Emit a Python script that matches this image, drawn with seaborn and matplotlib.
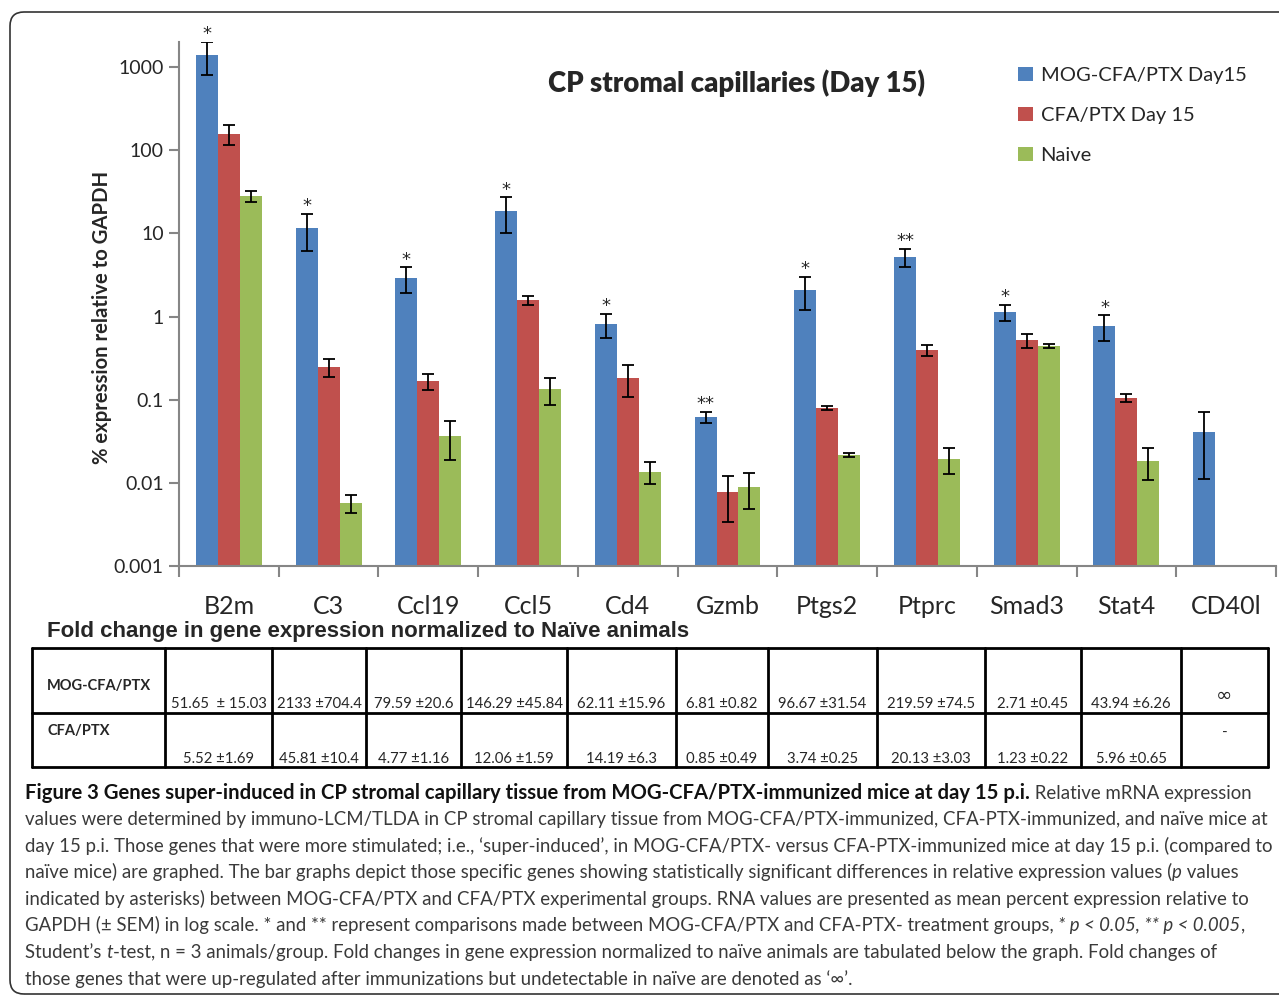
import numpy as np
import pandas as pd
import matplotlib
matplotlib.use("Agg")
import matplotlib.pyplot as plt
import seaborn as sns
from matplotlib import font_manager
from matplotlib.patches import Patch, FancyBboxPatch
from matplotlib.lines import Line2D
from matplotlib.container import BarContainer
from matplotlib.ticker import FixedLocator, NullLocator

# ---------------- data ----------------
genes = ["B2m", "C3", "Ccl19", "Ccl5", "Cd4", "Gzmb", "Ptgs2", "Ptprc", "Smad3", "Stat4", "CD40l"]
series = ["MOG-CFA/PTX Day15", "CFA/PTX Day 15", "Naive"]
mog_mean = [1394, 11.6, 2.9, 18.6, 0.815, 0.062, 2.09, 5.2, 1.135, 0.77, 0.041]
mog_sem = [600, 5.5, 1.0, 8.5, 0.27, 0.009, 0.9, 1.3, 0.25, 0.26, 0.03]
cfa_mean = [157, 0.248, 0.168, 1.58, 0.183, 0.0078, 0.080, 0.397, 0.523, 0.105, np.nan]
cfa_sem = [42, 0.06, 0.038, 0.19, 0.075, 0.0044, 0.005, 0.06, 0.1, 0.011, np.nan]
naive_mean = [28, 0.0057, 0.0367, 0.135, 0.0136, 0.009, 0.0217, 0.0194, 0.443, 0.0184, np.nan]
naive_sem = [4, 0.0014, 0.018, 0.048, 0.004, 0.0042, 0.0013, 0.0066, 0.03, 0.0075, np.nan]
signif = ["*", "*", "*", "*", "*", "**", "*", "**", "*", "*", ""]
ytick_vals = [0.001, 0.01, 0.1, 1, 10, 100, 1000]
ytick_labels = ["0.001", "0.01", "0.1", "1", "10", "100", "1000"]

table_title = "Fold change in gene expression normalized to Naïve animals"
row_labels = ["MOG-CFA/PTX", "CFA/PTX"]
fold_mog = ["51.65  ± 15.03", "2133 ±704.4", "79.59 ±20.6", "146.29 ±45.84", "62.11 ±15.96",
            "6.81 ±0.82", "96.67 ±31.54", "219.59 ±74.5", "2.71 ±0.45", "43.94 ±6.26", "∞"]
fold_cfa = ["5.52 ±1.69", "45.81 ±10.4", "4.77 ±1.16", "12.06 ±1.59", "14.19 ±6.3",
            "0.85 ±0.49", "3.74 ±0.25", "20.13 ±3.03", "1.23 ±0.22", "5.96 ±0.65", "-"]

caption_lines = [
    [("Figure 3 Genes super-induced in CP stromal capillary tissue from MOG-CFA/PTX-immunized mice at day 15 p.i.", "b"),
     (" Relative mRNA expression", "")],
    [("values were determined by immuno-LCM/TLDA in CP stromal capillary tissue from MOG-CFA/PTX-immunized, CFA-PTX-immunized, and naïve mice at", "")],
    [("day 15 p.i. Those genes that were more stimulated; i.e., ‘super-induced’, in MOG-CFA/PTX- versus CFA-PTX-immunized mice at day 15 p.i. (compared to", "")],
    [("naïve mice) are graphed. The bar graphs depict those specific genes showing statistically significant differences in relative expression values (", ""),
     ("p", "i"), (" values", "")],
    [("indicated by asterisks) between MOG-CFA/PTX and CFA/PTX experimental groups. RNA values are presented as mean percent expression relative to", "")],
    [("GAPDH (± SEM) in log scale. * and ** represent comparisons made between MOG-CFA/PTX and CFA-PTX- treatment groups, ", ""),
     ("* p < 0.05, ** p < 0.005", "i"), (",", "")],
    [("Student’s ", ""), ("t", "i"),
     ("-test, n = 3 animals/group. Fold changes in gene expression normalized to naïve animals are tabulated below the graph. Fold changes of", "")],
    [("those genes that were up-regulated after immunizations but undetectable in naïve are denoted as ‘∞’.", "")],
]

colors = ["#4F81BD", "#C0504D", "#9BBB59"]

# ---------------- setup ----------------
sns.set_style("ticks")
avail = {f.name for f in font_manager.fontManager.ttflist}
main_font = "Lato" if "Lato" in avail else "DejaVu Sans"
cap_font = "Liberation Sans Narrow" if "Liberation Sans Narrow" in avail else main_font
plt.rcParams["font.family"] = [main_font, "DejaVu Sans"]

W, H = 1279, 997
fig = plt.figure(figsize=(W / 100, H / 100), dpi=100)

def fx(px):
    return px / W

def fy(py):
    return 1 - py / H

# border
fig.add_artist(FancyBboxPatch((0.10, 0.03), 14.0, 9.82, boxstyle="round,pad=0,rounding_size=0.14",
                              transform=fig.dpi_scale_trans, facecolor="none", edgecolor="#333333",
                              linewidth=1.2))

ax = fig.add_axes([fx(179), fy(566), fx(1276) - fx(179), fy(42) - fy(566)])
ax.set_yscale("log")

df = pd.DataFrame({
    "gene": genes * 3,
    "series": sum([[s] * len(genes) for s in series], []),
    "value": mog_mean + cfa_mean + naive_mean,
})
sns.barplot(data=df, x="gene", y="value", hue="series", order=genes, hue_order=series,
            palette=colors, width=0.66, errorbar=None, ax=ax, legend=False,
            edgecolor="none", saturation=1)

means = [mog_mean, cfa_mean, naive_mean]
sems = [mog_sem, cfa_sem, naive_sem]
bar_conts = [c for c in ax.containers if isinstance(c, BarContainer)]
blue_x = {}
for h, cont in enumerate(bar_conts):
    for bar in cont.patches:
        if bar is None:
            continue
        xc = bar.get_x() + bar.get_width() / 2
        gi = int(round(xc))
        m = means[h][gi]
        if np.isnan(m):
            continue
        ax.errorbar([xc], [m], yerr=[sems[h][gi]], fmt="none", ecolor="black",
                    elinewidth=1.3, capsize=4, capthick=1.3, zorder=5)
        if h == 0:
            blue_x[gi] = xc

for gi, s in enumerate(signif):
    if s and gi in blue_x:
        ax.annotate(s, (blue_x[gi], mog_mean[gi] + mog_sem[gi]), xytext=(0, -1),
                    textcoords="offset points", ha="center", va="bottom", fontsize=13,
                    family=["DejaVu Sans"])

ax.set_ylim(1e-3, 2000)
ax.set_xlim(-0.5, len(genes) - 0.5)
ax.yaxis.set_major_locator(FixedLocator(ytick_vals))
ax.yaxis.set_minor_locator(NullLocator())
ax.set_yticklabels(ytick_labels)
ax.set_xticks(range(len(genes)))
ax.set_xticklabels(genes)
ax.set_xticks(np.arange(-0.5, len(genes)), minor=True)
ax.tick_params(axis="x", which="major", length=0, pad=21, labelsize=18)
ax.tick_params(axis="x", which="minor", length=8, width=1.5, color="#868686")
ax.tick_params(axis="y", which="major", length=7, width=1.5, color="#868686", labelsize=14, pad=4)
ax.set_xlabel("")
ax.set_ylabel("")
for sp in ["top", "right"]:
    ax.spines[sp].set_visible(False)
for sp in ["left", "bottom"]:
    ax.spines[sp].set_color("#868686")
    ax.spines[sp].set_linewidth(1.5)

# title & y label
fig.text(fx(736), fy(83), "CP stromal capillaries (Day 15)", ha="center", va="center",
         fontsize=19.8, fontweight="heavy")
fig.text(fx(102), fy(317), "% expression relative to GAPDH", ha="center", va="center",
         rotation=90, fontsize=14.6, fontweight="bold")

# legend
handles = [Patch(facecolor=c, edgecolor="none") for c in colors]
fig.legend(handles, series, loc="upper left", bbox_to_anchor=(fx(1018), fy(67)), frameon=False,
           fontsize=14.5, handlelength=0.72, handleheight=0.72, handletextpad=0.4,
           labelspacing=1.13, borderpad=0, borderaxespad=0)

# ---------------- table ----------------
fig.text(fx(47), fy(632), table_title, ha="left", va="center", fontsize=16, fontweight="bold",
         family=["Liberation Sans", "DejaVu Sans"])
col_x = [32, 165, 272, 366, 461, 567, 676, 768, 877, 985, 1081, 1181, 1268]
row_y = [648, 713, 767]
for yy in row_y:
    fig.add_artist(Line2D([fx(col_x[0]), fx(col_x[-1])], [fy(yy), fy(yy)], color="black", lw=2))
for xx in col_x:
    fig.add_artist(Line2D([fx(xx), fx(xx)], [fy(row_y[0]), fy(row_y[-1])], color="black", lw=2))
fig.text(fx(47), fy(686), row_labels[0], ha="left", va="center", fontsize=10.5, fontweight="bold")
fig.text(fx(47), fy(731), row_labels[1], ha="left", va="center", fontsize=10.5, fontweight="bold")
for i in range(len(genes)):
    cx = (col_x[i + 1] + col_x[i + 2]) / 2
    if fold_mog[i] == "∞":
        fig.text(fx(cx), fy(695), fold_mog[i], ha="center", va="center", fontsize=14,
                 family=["DejaVu Sans"])
        fig.text(fx(cx), fy(733), fold_cfa[i], ha="center", va="center", fontsize=11)
    else:
        fig.text(fx(cx), fy(708), fold_mog[i], ha="center", va="baseline", fontsize=10.7)
        fig.text(fx(cx), fy(763), fold_cfa[i], ha="center", va="baseline", fontsize=10.7)

# ---------------- caption ----------------
renderer = fig.canvas.get_renderer()

def seg_width(text, size, style):
    kw = dict(fontsize=size, family=[cap_font, "DejaVu Sans"],
              fontweight="bold" if "b" in style else "normal",
              fontstyle="italic" if "i" in style else "normal")
    t1 = fig.text(0, 0, "|" + text + "|", **kw)
    t2 = fig.text(0, 0, "||", **kw)
    w = t1.get_window_extent(renderer).width - t2.get_window_extent(renderer).width
    t1.remove()
    t2.remove()
    return w

base = 14
w2 = seg_width(caption_lines[1][0][0], base, "")
cap_size = base * (1272 - 25) / w2
wb = seg_width(caption_lines[0][0][0], cap_size, "b")
bold_size = min(cap_size * (1027 - 25) / wb, cap_size * 1.12)

cap_y = [793, 819, 846, 872, 899, 925, 952, 979]
for yy, segs in zip(cap_y, caption_lines):
    x = 25
    for text, style in segs:
        sz = bold_size if "b" in style else cap_size
        fig.text(fx(x), fy(yy), text, ha="left", va="center", fontsize=sz,
                 family=[cap_font, "DejaVu Sans"],
                 fontweight="bold" if "b" in style else "normal",
                 fontstyle="italic" if "i" in style else "normal",
                 color="#111111" if "b" in style else "#3a3a3a")
        x += seg_width(text, sz, style)

fig.savefig("out.png", dpi=100)
